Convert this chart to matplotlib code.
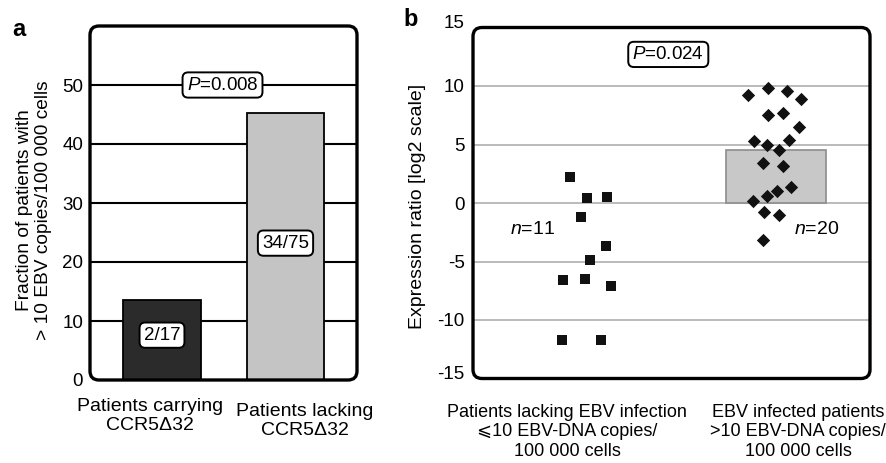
import numpy as np
import matplotlib
matplotlib.use("Agg")
import matplotlib.pyplot as plt
import matplotlib.transforms as mtransforms
from matplotlib.patches import FancyBboxPatch

plt.rcParams['font.family'] = ['Liberation Sans', 'DejaVu Sans']
plt.rcParams['mathtext.fontset'] = 'custom'
plt.rcParams['mathtext.rm'] = 'Liberation Sans'
plt.rcParams['mathtext.it'] = 'Liberation Sans:italic'
plt.rcParams['axes.unicode_minus'] = False

# Panel a data
a_categories = ["Patients carrying\nCCR5Δ32", "Patients lacking\nCCR5Δ32"]
a_values = [13.5, 45.3]
a_counts = ["2/17", "34/75"]
a_yticks = [0, 10, 20, 30, 40, 50]

# Panel b data (offsets = horizontal scatter)
b_categories = ["Patients lacking EBV infection\n⩽10 EBV-DNA copies/\n100 000 cells",
                "EBV infected patients\n>10 EBV-DNA copies/\n100 000 cells"]
neg_values = [2.2, 0.4, 0.5, -1.2, -3.65, -4.9, -6.6, -6.5, -7.1, -11.7, -11.7]
neg_offsets = [-0.09, 0.0, 0.106, -0.033, 0.10, 0.014, -0.125, -0.009, 0.129, -0.132, 0.074]
pos_values = [9.2, 9.8, 9.6, 8.9, 7.5, 7.7, 6.5, 5.3, 5.0, 5.4,
              4.55, 3.4, 3.2, 1.4, 1.05, 0.6, 0.2, -0.8, -1.0, -3.2]
pos_offsets = [-0.147, -0.041, 0.057, 0.132, -0.041, 0.039, 0.122, -0.116, -0.049, 0.067,
               0.017, -0.070, 0.039, 0.079, 0.007, -0.049, -0.123, -0.063, 0.014, -0.067]
pos_mean = 4.55
b_yticks = [-15, -10, -5, 0, 5, 10, 15]

W, H = 887, 463
fig = plt.figure(figsize=(W / 100, H / 100), dpi=100)


def rounded_frame(ax, radius_px=9, lw=2.4):
    pos = ax.get_position()
    w_px = pos.width * W
    h_px = pos.height * H
    frame = FancyBboxPatch((0, 0), 1, 1, boxstyle="round,pad=0,rounding_size=%f" % (radius_px / w_px),
                           mutation_aspect=w_px / h_px, transform=ax.transAxes,
                           fc="none", ec="black", lw=lw, clip_on=False, zorder=10)
    ax.add_patch(frame)


box_kw = dict(boxstyle="round,pad=0.22,rounding_size=0.3", fc="white", ec="black", lw=1.4)

# ---- panel a ----
ax1 = fig.add_axes([90 / W, 1 - 380 / H, 267 / W, 354 / H])
ax1.set_xlim(-0.583, 1.579)
ax1.set_ylim(0, 60)
for y in a_yticks[1:]:
    ax1.axhline(y, color="black", lw=1.5, zorder=1)
x_a = np.arange(len(a_values))
ax1.bar(x_a, a_values, width=0.63, color=["#2b2b2b", "#c4c4c4"], edgecolor="black", lw=1.3, zorder=2)
ax1.text(0, 7.6, a_counts[0], ha="center", va="center", fontsize=13.5, bbox=box_kw, zorder=5)
ax1.text(1, 23.2, a_counts[1], ha="center", va="center", fontsize=13.5, bbox=box_kw, zorder=5)
ax1.text(0.49, 50, "$P$=0.008", ha="center", va="center", fontsize=13.5, bbox=box_kw, zorder=5)
ax1.set_yticks(a_yticks)
ax1.set_xticks([])
ax1.tick_params(axis="y", length=0, pad=5, labelsize=13.5)
for s in ax1.spines.values():
    s.set_visible(False)
rounded_frame(ax1)
ax1.text(-0.097, -0.05, a_categories[0], transform=ax1.get_xaxis_transform(),
         ha="center", va="top", fontsize=14, linespacing=1.15)
ax1.text(1.158, -0.065, a_categories[1], transform=ax1.get_xaxis_transform(),
         ha="center", va="top", fontsize=14, linespacing=1.15)
fig.text(34 / W, 1 - 210 / H, "Fraction of patients with\n> 10 EBV copies/100 000 cells",
         rotation=90, ha="center", va="center", fontsize=13.8, linespacing=1.1)
fig.text(12 / W, 1 - 30 / H, "a", fontsize=17, fontweight="bold", ha="left", va="center")

# ---- panel b ----
ax2 = fig.add_axes([473 / W, 1 - 378.5 / H, 397 / W, 351 / H])
ax2.set_xlim(0.397, 2.497)
ax2.set_ylim(-15, 15)
for y in b_yticks[1:-1]:
    ax2.axhline(y, color="#a8a8a8", lw=1.1, zorder=1)
ax2.bar([2], [pos_mean], width=0.525, color="#c8c8c8", edgecolor="#8c8c8c", lw=1.2, zorder=2)
ax2.scatter(1 + np.array(neg_offsets), neg_values, marker="s", s=50, color="#111111", zorder=4, lw=0)
ax2.scatter(2 + np.array(pos_offsets), pos_values, marker="D", s=46, color="#111111", zorder=4, lw=0)
ax2.text(1.43, 12.7, "$P$=0.024", ha="center", va="center", fontsize=13.5, bbox=box_kw, zorder=5)
ax2.text(0.714, -2.3, "$n$=11", ha="center", va="center", fontsize=14)
ax2.text(2.217, -2.3, "$n$=20", ha="center", va="center", fontsize=14)
ax2.set_yticks(b_yticks)
ax2.set_xticks([])
ax2.tick_params(axis="y", length=0, pad=6, labelsize=13.5)
# the outer labels sit a little higher in the original
shift = mtransforms.ScaledTranslation(0, 6 / 100, fig.dpi_scale_trans)
ylabels = ax2.get_yticklabels()
for lab in (ylabels[0], ylabels[-1]):
    lab.set_transform(lab.get_transform() + shift)
for s in ax2.spines.values():
    s.set_visible(False)
rounded_frame(ax2)
ax2.text(0.894, -0.072, b_categories[0], transform=ax2.get_xaxis_transform(),
         ha="center", va="top", fontsize=13, linespacing=1.2)
ax2.text(2.116, -0.072, b_categories[1], transform=ax2.get_xaxis_transform(),
         ha="center", va="top", fontsize=13, linespacing=1.2)
fig.text(418 / W, 1 - 206 / H, "Expression ratio [log2 scale]",
         rotation=90, ha="center", va="center", fontsize=14)
fig.text(403 / W, 1 - 20 / H, "b", fontsize=17, fontweight="bold", ha="left", va="center")

fig.savefig("out.png", dpi=100)
